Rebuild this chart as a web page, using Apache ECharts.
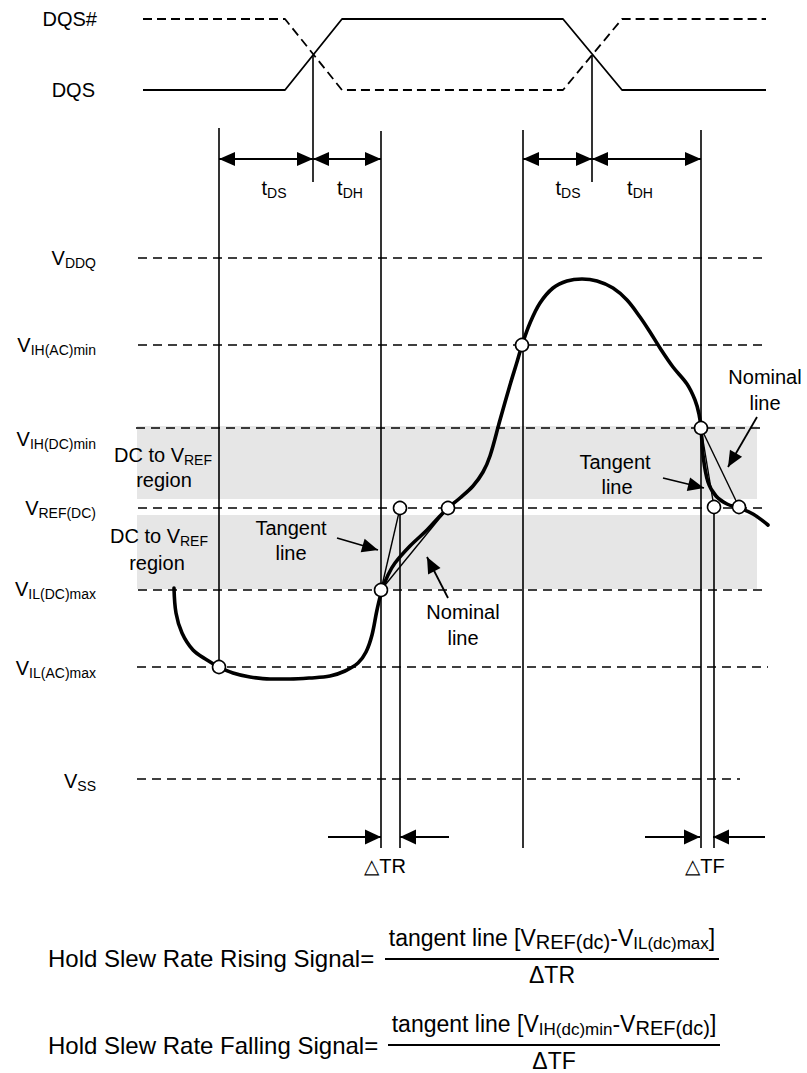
<!DOCTYPE html>
<html>
<head>
<meta charset="utf-8">
<script src="https://cdn.jsdelivr.net/npm/echarts@6/dist/echarts.min.js"></script>
<style>
html,body{margin:0;padding:0;background:#fff;}
#c{width:807px;height:1073px;}
</style>
</head>
<body>
<div id="c"></div>
<script>
// ---------------- DATA (diagram coordinates: x to the right, y downward) ----------------
// Strobe signals
const dqsX      = [143, 285, 342, 563, 622, 766];
const dqsY      = [90, 90, 19, 19, 90, 90];     // DQS (solid)
const dqsBarY   = [19, 19, 90, 90, 19, 19];     // DQS# (dashed)

// Voltage levels
const levelNames = ['VDDQ', 'VIH(AC)min', 'VIH(DC)min', 'VREF(DC)', 'VIL(DC)max', 'VIL(AC)max', 'VSS'];
const levelY     = [258, 345, 428, 508, 590, 667, 779];
const levelStart = [138, 138, 136, 138, 138, 137, 137];
const levelEnd   = [765, 762, 762, 767, 763, 768, 740];

// "DC to VREF" shaded regions [x0, y0, x1, y1]
const bandRects = [[137, 426, 757, 499], [137, 515, 757, 589]];

// Timing reference verticals [x, yTop, yBottom]
const verticals = [
  [219, 128, 667], [313, 55, 182], [381, 131, 848], [400, 508, 848],
  [523, 130, 848], [592, 55, 182], [701, 130, 848], [714, 507, 848]
];

// Data signal waveform (x, y)
const waveX = [174,176,182,193,207,219,233,250,270,290,310,330,345,358,366,372,377,382,388,395,410,427,440,448,460,473,483,490,500,510,517,522,530,540,553,567,582,597,613,627,640,650,660,673,687,695,699,701,703,708,716,727,739,753,768];
const waveY = [588,613,633,650,660,667,673,677,679,679,678,676,671,663,652,635,610,590,575,563,546,530,516,508,498,486,472,456,420,385,362,345,323,303,288,281,279,281,288,300,317,332,348,367,384,400,414,428,455,482,496,504,508,514,525];

// Crossing points (circles)
const markX = [219, 381, 400, 448, 522, 701, 714, 739];
const markY = [667, 590, 508, 508, 345, 428, 507, 507];

// Tangent / nominal lines [x1, y1, x2, y2]
const slopeLines = [[381, 590, 400, 508], [381, 590, 448, 508], [701, 428, 714, 507], [701, 428, 739, 507]];

// tDS / tDH double arrows [x1, y1, x2, y2]
const timingArrows = [[219, 159, 313, 159], [313, 159, 381, 159], [523, 159, 592, 159], [592, 159, 701, 159]];
// Delta-T arrows (head at second point)
const deltaArrows = [[328, 837, 381, 837], [449, 837, 400, 837], [645, 837, 700, 837], [765, 837, 713, 837]];
// Callout arrows (head at second point)
const calloutArrows = [[337, 538, 378, 550], [448, 598, 427, 557], [663, 478, 704, 488], [757, 417, 728, 467]];

// Fraction bars in the formulas [x1, y, x2, y]
const fractionBars = [[385, 959, 719, 959], [388, 1045, 720, 1045]];

// ---------------- CHART ----------------
const FONT = '"Liberation Sans", Arial, Helvetica, sans-serif';
const chart = echarts.init(document.getElementById('c'), null, {renderer: 'svg', width: 807, height: 1073});

function toPairs(xs, ys) { return xs.map((x, i) => [x, ys[i]]); }

function segRender(lw, dash) {
  return function (params, api) {
    const p1 = api.coord([api.value(0), api.value(1)]);
    const p2 = api.coord([api.value(2), api.value(3)]);
    return {
      type: 'line',
      shape: {x1: p1[0], y1: p1[1], x2: p2[0], y2: p2[1]},
      style: {stroke: '#000', lineWidth: lw, lineDash: dash || null, fill: null}
    };
  };
}

function arrowRender(lw, headLen, headHalf, both) {
  function head(tip, from) {
    const dx = tip[0] - from[0], dy = tip[1] - from[1];
    const L = Math.sqrt(dx * dx + dy * dy) || 1;
    const ux = dx / L, uy = dy / L;
    const bx = tip[0] - ux * headLen, by = tip[1] - uy * headLen;
    const nx = -uy * headHalf, ny = ux * headHalf;
    return {type: 'polygon', shape: {points: [[tip[0], tip[1]], [bx + nx, by + ny], [bx - nx, by - ny]]}, style: {fill: '#000', stroke: null}};
  }
  return function (params, api) {
    const p1 = api.coord([api.value(0), api.value(1)]);
    const p2 = api.coord([api.value(2), api.value(3)]);
    const children = [
      {type: 'line', shape: {x1: p1[0], y1: p1[1], x2: p2[0], y2: p2[1]}, style: {stroke: '#000', lineWidth: lw}},
      head(p2, p1)
    ];
    if (both) children.push(head(p1, p2));
    return {type: 'group', children: children};
  };
}

const levelSegs = levelY.map((y, i) => [levelStart[i], y, levelEnd[i], y]);
const vertSegs = verticals.map(v => [v[0], v[1], v[0], v[2]]);

const option = {
  animation: false,
  backgroundColor: '#fff',
  grid: {left: 0, right: 0, top: 0, bottom: 0, containLabel: false},
  xAxis: {type: 'value', min: 0, max: 807, show: false},
  yAxis: {type: 'value', min: 0, max: 1073, inverse: true, show: false},
  series: [
    { // shaded bands
      type: 'custom', z: 1, silent: true,
      data: bandRects,
      renderItem: function (params, api) {
        const a = api.coord([api.value(0), api.value(1)]);
        const b = api.coord([api.value(2), api.value(3)]);
        return {type: 'rect', shape: {x: Math.min(a[0], b[0]), y: Math.min(a[1], b[1]), width: Math.abs(b[0] - a[0]), height: Math.abs(b[1] - a[1])}, style: {fill: '#e6e6e6'}};
      }
    },
    { // level dashed lines
      type: 'custom', z: 2, silent: true, data: levelSegs, renderItem: segRender(1.5, [9, 6])
    },
    { // vertical timing lines
      type: 'custom', z: 3, silent: true, data: vertSegs, renderItem: segRender(1.6)
    },
    { // DQS#
      type: 'line', z: 3, silent: true, showSymbol: false, data: toPairs(dqsX, dqsBarY),
      lineStyle: {color: '#000', width: 1.8, type: [9, 5]}
    },
    { // DQS
      type: 'line', z: 3, silent: true, showSymbol: false, data: toPairs(dqsX, dqsY),
      lineStyle: {color: '#000', width: 1.8}
    },
    { // tangent / nominal lines
      type: 'custom', z: 4, silent: true, data: slopeLines, renderItem: segRender(1.4)
    },
    { // waveform
      type: 'line', z: 5, silent: true, showSymbol: false, smooth: 0.35,
      data: toPairs(waveX, waveY),
      lineStyle: {color: '#000', width: 3.6, cap: 'round', join: 'round'}
    },
    { type: 'custom', z: 6, silent: true, data: timingArrows, renderItem: arrowRender(2.2, 16, 7, true) },
    { type: 'custom', z: 6, silent: true, data: deltaArrows, renderItem: arrowRender(1.8, 16, 7.5, false) },
    { type: 'custom', z: 6, silent: true, data: calloutArrows, renderItem: arrowRender(1.8, 16, 7, false) },
    { type: 'custom', z: 6, silent: true, data: fractionBars, renderItem: segRender(2) },
    { // crossing circles
      type: 'scatter', z: 10, silent: true, symbol: 'circle', symbolSize: 13,
      data: toPairs(markX, markY),
      itemStyle: {color: '#fff', borderColor: '#000', borderWidth: 1.6, opacity: 1}
    }
  ]
};
chart.setOption(option);

// ---------------- TEXT ----------------
function px(x, y) { return chart.convertToPixel({gridIndex: 0}, [x, y]); }
const richLbl = {
  m: {fontSize: 20, lineHeight: 24, fontFamily: FONT, fill: '#000'},
  s: {fontSize: 14, lineHeight: 15, verticalAlign: 'bottom', fontFamily: FONT, fill: '#000'}
};
function txt(x, y, text, align, rich) {
  const p = px(x, y);
  return {type: 'text', x: p[0], y: p[1], z: 20, silent: true,
    style: {text: text, rich: rich || richLbl, align: align, verticalAlign: 'middle', fill: '#000', font: '20px ' + FONT}};
}
const labelShift = [0, 0, 11, 0, -1, 1, 2];
const graphics = [];
graphics.push(txt(97, 19, '{m|DQS#}', 'right'));
graphics.push(txt(95, 90, '{m|DQS}', 'right'));
levelNames.forEach((n, i) => {
  graphics.push(txt(96, levelY[i] + labelShift[i], '{m|' + n[0] + '}{s|' + n.slice(1) + '}', 'right'));
});
[[274, 'DS'], [350, 'DH'], [568, 'DS'], [640, 'DH']].forEach(t => graphics.push(txt(t[0], 188, '{m|t}{s|' + t[1] + '}', 'center')));
graphics.push(txt(163, 455, '{m|DC to V}{s|REF}', 'center'));
graphics.push(txt(164, 480, '{m|region}', 'center'));
graphics.push(txt(159, 536, '{m|DC to V}{s|REF}', 'center'));
graphics.push(txt(157, 563, '{m|region}', 'center'));
graphics.push(txt(291, 528, '{m|Tangent}', 'center'));
graphics.push(txt(291, 553, '{m|line}', 'center'));
graphics.push(txt(463, 612, '{m|Nominal}', 'center'));
graphics.push(txt(463, 638, '{m|line}', 'center'));
graphics.push(txt(615, 462, '{m|Tangent}', 'center'));
graphics.push(txt(617, 487, '{m|line}', 'center'));
graphics.push(txt(765, 377, '{m|Nominal}', 'center'));
graphics.push(txt(765, 403, '{m|line}', 'center'));
graphics.push(txt(385, 866, '{m|△TR}', 'center'));
graphics.push(txt(705, 866, '{m|△TF}', 'center'));

const richF = {
  h: {fontSize: 24, lineHeight: 28, fontFamily: FONT, fill: '#000'},
  m: {fontSize: 23, lineHeight: 28, fontFamily: FONT, fill: '#000'},
  a: {fontSize: 20, lineHeight: 12, verticalAlign: 'bottom', fontFamily: FONT, fill: '#000'},
  b: {fontSize: 17, lineHeight: 11, verticalAlign: 'bottom', fontFamily: FONT, fill: '#000'}
};
graphics.push(txt(48, 958, '{h|Hold Slew Rate Rising Signal=}', 'left', richF));
graphics.push(txt(552, 938, '{m|tangent line [V}{a|REF(dc)}{m|-V}{b|IL(dc)max}{m|]}', 'center', richF));
graphics.push(txt(552, 975, '{m|ΔTR}', 'center', richF));
graphics.push(txt(48, 1045, '{h|Hold Slew Rate Falling Signal=}', 'left', richF));
graphics.push(txt(554, 1024, '{m|tangent line [V}{b|IH(dc)min}{m|-V}{a|REF(dc)}{m|]}', 'center', richF));
graphics.push(txt(554, 1061, '{m|ΔTF}', 'center', richF));

chart.setOption({graphic: {elements: graphics}});
</script>
</body>
</html>
